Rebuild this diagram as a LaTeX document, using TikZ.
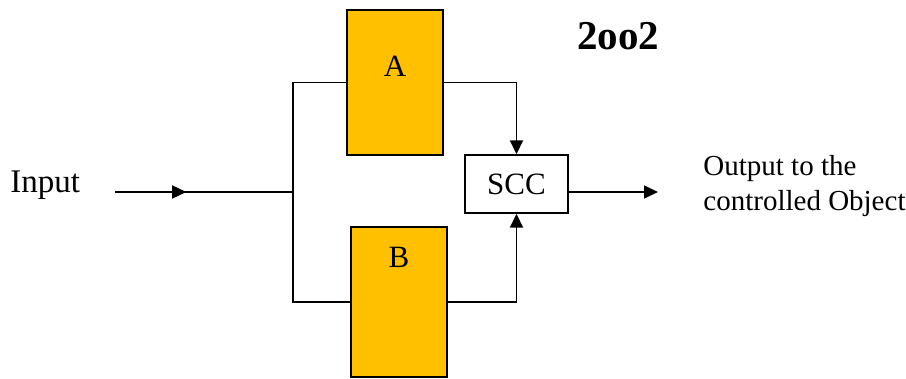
\documentclass[tikz,border=0pt]{standalone}
\usepackage{fontspec}
\setmainfont{Liberation Serif}
\usetikzlibrary{arrows.meta, decorations.markings, calc}
\definecolor{chanY}{RGB}{255,192,0}
\tikzset{chanbox/.style={draw=black, fill=chanY, line width=0.7pt, inner ysep=0pt, minimum width=48pt},
  wire/.style={line width=0.8pt},
  tip/.style={-{Triangle[length=7pt,width=6.5pt]}}}

\begin{document}
\begin{tikzpicture}[x=0.5pt, y=-0.5pt, every node/.style={font=\fontsize{15.5}{17.5}\selectfont}]
\useasboundingbox (0,0) rectangle (906,379);
% channel boxes
\node[chanbox, text height=33.5pt, text depth=39pt] (A) at (395,82.5) {A};
\node[chanbox, text height=20.5pt, text depth=54.5pt] (B) at (399,302) {B};
% comparator
\node[draw, line width=0.7pt, fill=white, minimum width=51.5pt, minimum height=29pt] (SCC) at (516.5,184) {SCC};
% labels
\node[anchor=base west, inner sep=0pt, font=\fontsize{16.5}{19}\selectfont] (inp) at (10,193) {Input};
\node[anchor=west, align=left, inner sep=0pt, font=\fontsize{14.5}{17.5}\selectfont] (outp) at (703,186) {Output to the\\controlled Object};
\node[font=\fontsize{20.5}{24}\selectfont\bfseries] (title) at (618,36) {2oo2};
% wiring
\coordinate (in) at (115,192);
\coordinate (split) at (293,192);
\coordinate (out) at (658,192);
\draw[wire, decoration={markings, mark=at position 0.4 with {\arrow{Triangle[length=7pt,width=6.5pt]}}}, postaction={decorate}] (in) -- (split);
\draw[wire] (A.west) -| (split) |- (B.west);
\draw[wire, tip] (A.east) -| (SCC.north);
\draw[wire, tip] (B.east) -| (SCC.south);
\draw[wire, tip] ($(SCC.east)+(0,8)$) -- (out);
\end{tikzpicture}
\end{document}
